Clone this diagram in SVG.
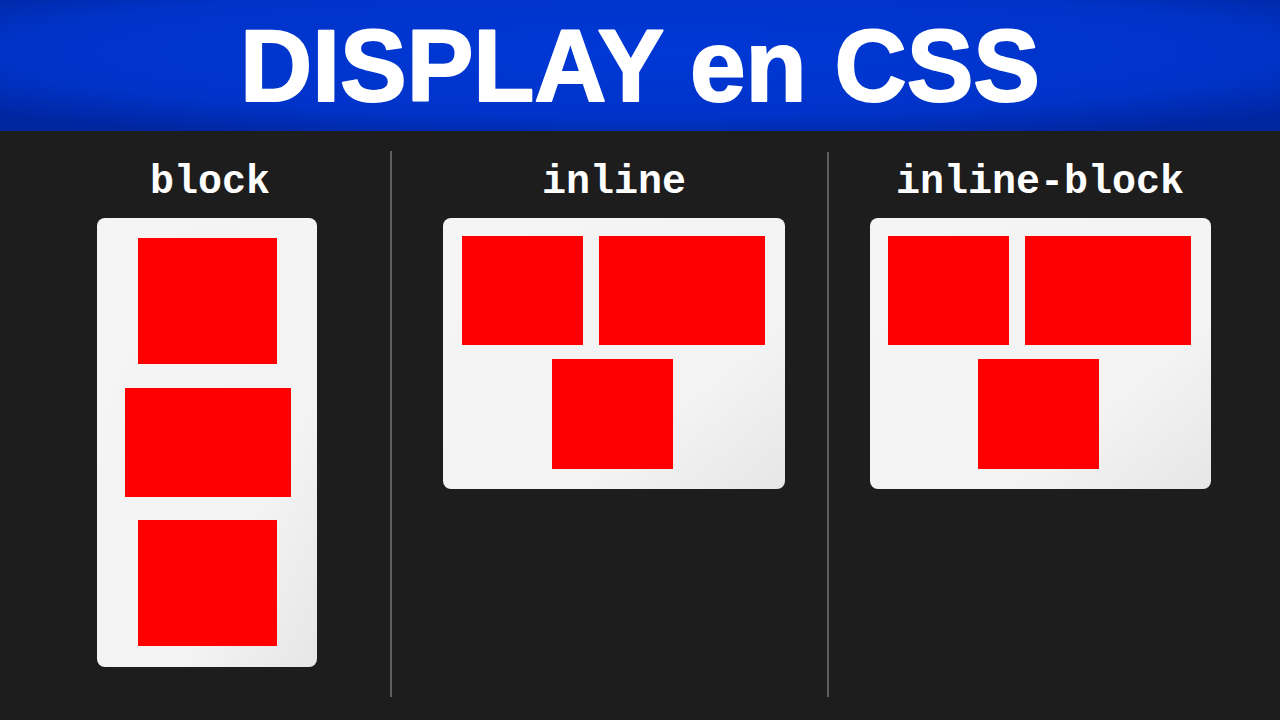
<svg xmlns="http://www.w3.org/2000/svg" width="1280" height="720" viewBox="0 0 1280 720">
  <defs>
    <radialGradient id="hdr" cx="0.5" cy="0.4" r="0.7">
      <stop offset="0" stop-color="#0038d6"/>
      <stop offset="0.7" stop-color="#0033c8"/>
      <stop offset="1" stop-color="#0026a0"/>
    </radialGradient>
    <linearGradient id="panel" x1="0" y1="0" x2="1" y2="1">
      <stop offset="0" stop-color="#f5f5f5"/>
      <stop offset="0.7" stop-color="#f3f3f3"/>
      <stop offset="1" stop-color="#e6e6e6"/>
    </linearGradient>
  </defs>
  <style>
    .label { font-family: "Liberation Mono", "Courier New", monospace; font-weight: bold; font-size: 40px; fill: #ffffff; text-anchor: middle; }
    .panel { fill: url(#panel); }
    .box { fill: #ff0000; }
    .sep { stroke: #5e5e5e; stroke-width: 2; }
  </style>
  <rect x="0" y="0" width="1280" height="720" fill="#1d1d1d"/>
  <g id="header">
    <rect x="0" y="0" width="1280" height="131" fill="url(#hdr)"/>
    <text x="640" y="101" font-family="Liberation Sans, Arial, sans-serif" font-weight="bold" font-size="102" fill="#ffffff" stroke="#ffffff" stroke-width="2" stroke-linejoin="round" text-anchor="middle" textLength="800" lengthAdjust="spacingAndGlyphs">DISPLAY en CSS</text>
  </g>
  <g id="connectors">
    <line class="sep" x1="391" y1="151" x2="391" y2="697"/>
    <line class="sep" x1="828" y1="152" x2="828" y2="697"/>
  </g>
  <g id="block">
    <text class="label" x="210" y="193">block</text>
    <rect class="panel" x="97" y="218" width="220" height="449" rx="8"/>
    <rect class="box" x="138" y="238" width="139" height="126"/>
    <rect class="box" x="125" y="388" width="166" height="109"/>
    <rect class="box" x="138" y="520" width="139" height="126"/>
  </g>
  <g id="inline">
    <text class="label" x="614" y="193">inline</text>
    <rect class="panel" x="443" y="218" width="342" height="271" rx="8"/>
    <rect class="box" x="462" y="236" width="121" height="109"/>
    <rect class="box" x="599" y="236" width="166" height="109"/>
    <rect class="box" x="552" y="359" width="121" height="110"/>
  </g>
  <g id="inline-block">
    <text class="label" x="1040" y="193">inline-block</text>
    <rect class="panel" x="870" y="218" width="341" height="271" rx="8"/>
    <rect class="box" x="888" y="236" width="121" height="109"/>
    <rect class="box" x="1025" y="236" width="166" height="109"/>
    <rect class="box" x="978" y="359" width="121" height="110"/>
  </g>
</svg>
